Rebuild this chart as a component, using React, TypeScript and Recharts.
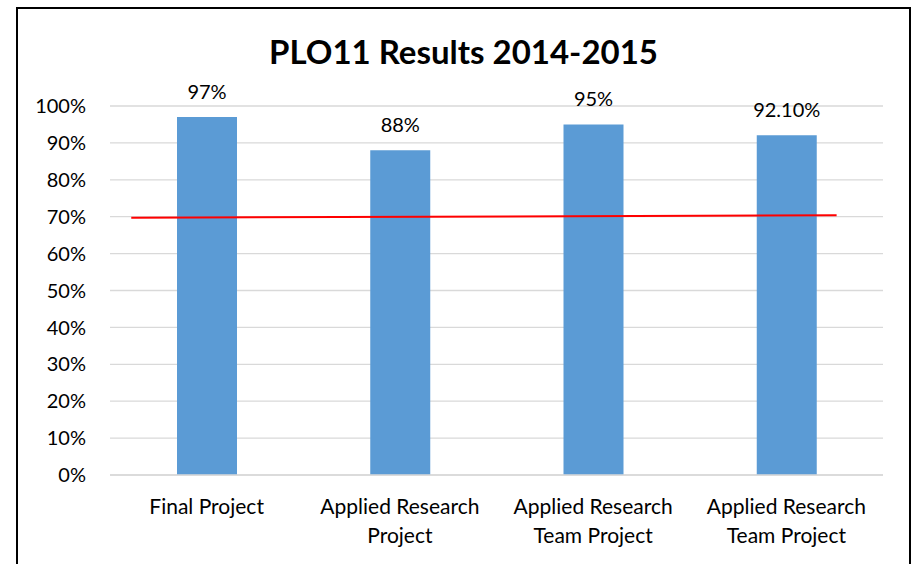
import { ComposedChart, Bar, XAxis, YAxis, CartesianGrid, LabelList, ReferenceLine } from 'recharts';

const categories = [
  'Final Project',
  'Applied Research Project',
  'Applied Research Team Project',
  'Applied Research Team Project',
];
const results = [97, 88, 95, 92.1];
const resultLabels = ['97%', '88%', '95%', '92.10%'];
const yTicks = [0, 10, 20, 30, 40, 50, 60, 70, 80, 90, 100];

// target line as drawn on the slide (slightly tilted, not full width)
const targetStart = { x: 0.11, y: 69.7 };
const targetEnd = { x: 3.76, y: 70.4 };

const FONT = 'Lato, "Open Sans", sans-serif';

const chartData = categories.map((name, i) => ({
  id: i,
  name,
  value: results[i],
  label: resultLabels[i],
}));

const CategoryTick = ({ x, y, payload }: any) => {
  const words = categories[payload.value].split(' ');
  const lines = words.length > 2 ? [words.slice(0, 2).join(' '), words.slice(2).join(' ')] : [words.join(' ')];
  return (
    <text x={x} y={y} textAnchor="middle" fontSize={21} fontFamily={FONT} fill="#000">
      {lines.map((l, i) => (
        <tspan key={i} x={x} dy={i === 0 ? 31 : 29}>
          {l}
        </tspan>
      ))}
    </text>
  );
};

export default function App() {
  return (
    <div style={{ position: 'absolute', left: 0, top: 0, width: 913, height: 564, background: '#fff', overflow: 'hidden' }}>
      <div
        style={{
          position: 'absolute',
          left: 16,
          top: 7,
          width: 891,
          height: 600,
          borderLeft: '2px solid #000',
          borderTop: '2px solid #000',
          borderRight: '2px solid #000',
        }}
      />
      <div
        style={{
          position: 'absolute',
          left: 0,
          width: 927,
          top: 33,
          textAlign: 'center',
          fontFamily: FONT,
          fontWeight: 'bold',
          fontSize: 33,
          lineHeight: '36px',
          color: '#000',
        }}
      >
        PLO11 Results 2014-2015
      </div>
      <div style={{ position: 'absolute', left: 0, top: 0 }}>
        <ComposedChart width={913} height={564} data={chartData} margin={{ top: 106, right: 30, bottom: 0, left: 0 }}>
          <CartesianGrid vertical={false} stroke="#D9D9D9" strokeWidth={1.3} />
          <XAxis
            dataKey="id"
            xAxisId="cat"
            type="category"
            height={89}
            tickLine={false}
            axisLine={{ stroke: '#D9D9D9', strokeWidth: 1.3 }}
            tick={<CategoryTick />}
            interval={0}
          />
          <XAxis xAxisId="line" dataKey="id" type="number" domain={[0, 4]} allowDataOverflow hide />
          <YAxis
            width={110}
            domain={[0, 100]}
            ticks={yTicks}
            interval={0}
            tickFormatter={(v: number) => `${v}%`}
            tickLine={false}
            axisLine={false}
            tickSize={0}
            tickMargin={24}
            tick={{ fontSize: 20, fontFamily: FONT, fill: '#000' }}
          />
          <Bar dataKey="value" xAxisId="cat" fill="#5B9BD5" barSize={60} isAnimationActive={false}>
            <LabelList dataKey="label" position="top" offset={18} fontSize={20} fontFamily={FONT} fill="#000" />
          </Bar>
          <ReferenceLine
            xAxisId="line"
            segment={[targetStart, targetEnd]}
            stroke="#FF0000"
            strokeWidth={2}
            ifOverflow="visible"
          />
        </ComposedChart>
      </div>
    </div>
  );
}
